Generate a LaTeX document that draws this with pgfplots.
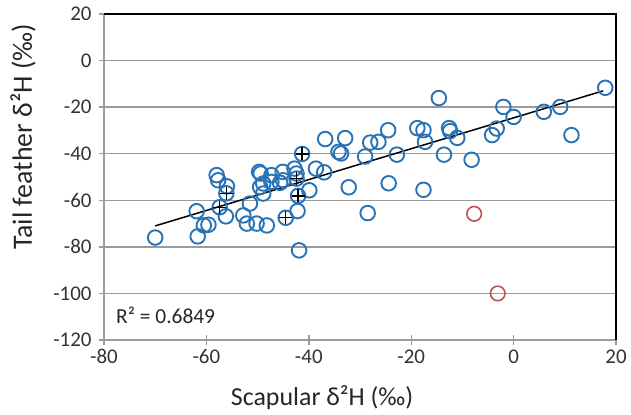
\documentclass[border=0pt]{standalone}
\usepackage{fontspec}
\setmainfont{Carlito}
\usepackage{pgfplots}
\pgfplotsset{compat=1.18}
\definecolor{ptblue}{RGB}{40,115,182}
\definecolor{ptred}{RGB}{192,80,77}
\definecolor{gridgray}{RGB}{155,155,155}

\pgfplotstableread{
x y
-70.0 -76.0
-61.7 -75.5
-61.9 -64.7
-60.5 -70.8
-59.6 -70.5
-58.0 -49.2
-57.7 -51.4
-56.0 -54.0
-56.2 -66.9
-52.8 -66.5
-51.5 -61.4
-52.1 -70.0
-50.2 -70.0
-48.2 -70.8
-48.9 -57.1
-49.7 -47.8
-49.4 -48.5
-47.3 -49.2
-48.9 -52.8
-49.5 -54.3
-47.3 -52.1
-45.1 -47.8
-45.0 -51.4
-45.6 -52.5
-42.8 -46.4
-42.4 -48.5
-42.2 -64.6
-41.9 -81.5
-39.9 -55.7
-38.6 -46.4
-37.0 -48.0
-36.8 -33.7
-34.2 -39.2
-33.7 -39.9
-32.9 -33.3
-32.2 -54.4
-29.0 -41.2
-28.5 -65.5
-28.0 -35.2
-26.4 -34.9
-24.5 -29.9
-22.8 -40.4
-24.4 -52.7
-17.6 -55.5
-14.6 -16.1
-18.8 -29.0
-17.6 -29.9
-17.3 -34.9
-12.6 -29.0
-12.4 -30.3
-11.0 -33.2
-13.6 -40.4
-8.2 -42.6
-4.2 -32.0
-3.3 -29.2
-2.0 -19.9
0.0 -24.2
5.9 -22.0
9.1 -19.9
11.3 -32.0
17.9 -11.7
}\bluedata

\pgfplotstableread{
x y
-56.1 -57.0
-57.4 -63.0
-44.5 -67.5
-42.1 -58.1
-42.4 -50.7
-41.3 -40.1
}\plusdata

\pgfplotstableread{
x y
-7.7 -65.8
-3.1 -100.0
}\reddata

\begin{document}
\begin{tikzpicture}
\begin{axis}[
  name=ax,
  scale only axis,
  width=512bp, height=326bp,
  xmin=-80, xmax=20, ymin=-120, ymax=20,
  xtick={-80,-60,...,20}, ytick={-120,-100,...,20},
  axis x line*=bottom, axis y line*=left,
  axis line style={gridgray, line width=1.4bp},
  ymajorgrids, major grid style={gridgray, line width=1.4bp},
  x tick style={gridgray, line width=1.4bp},
  y tick style={gridgray, line width=1.4bp},
  major tick length=10bp,
  xtick align=center, ytick align=center,
  ticklabel style={font=\fontsize{21}{24}\selectfont, text=black!80},
  yticklabel style={xshift=-4bp},
  xticklabel style={yshift=-1bp},
  /pgf/number format/assume math mode=true,
  xlabel={Scapular δ²H (‰)},
  ylabel={Tail feather δ²H (‰)},
  every axis x label/.style={at={([yshift=-58bp]axis description cs:0.426,0)}, anchor=center,
    font=\fontsize{26}{28}\selectfont, text=black!85},
  every axis y label/.style={at={([xshift=-81bp]axis description cs:0,0.623)}, anchor=center, rotate=90,
    font=\fontsize{28}{30}\selectfont, text=black!85},
  clip=false,
]
\draw[black, line width=1.6bp] (rel axis cs:0,1) -- (rel axis cs:1,1) -- (rel axis cs:1,0);
\addplot[only marks, mark=o, mark size=7.3bp, mark options={ptblue, line width=1.9bp}] table {\bluedata};
\addplot[only marks, mark=o, mark size=7.3bp, mark options={ptblue, line width=1.9bp}] table {\plusdata};
\addplot[only marks, mark=+, mark size=6.5bp, mark options={black, line width=1.3bp}] table {\plusdata};
\addplot[only marks, mark=o, mark size=7.3bp, mark options={ptred, line width=1.6bp}] table {\reddata};
\addplot[black, line width=1.5bp] coordinates {(-70,-71.0) (17.5,-13.0)};
\node[anchor=west, font=\fontsize{21.5}{24}\selectfont, text=black!85] at (axis cs:-78.3,-109.5) {R² = 0.6849};
\end{axis}
\pgfresetboundingbox
\path[use as bounding box] ([shift={(-104bp,-75bp)}]ax.south west) rectangle ([shift={(15bp,14bp)}]ax.north east);
\end{tikzpicture}
\end{document}
